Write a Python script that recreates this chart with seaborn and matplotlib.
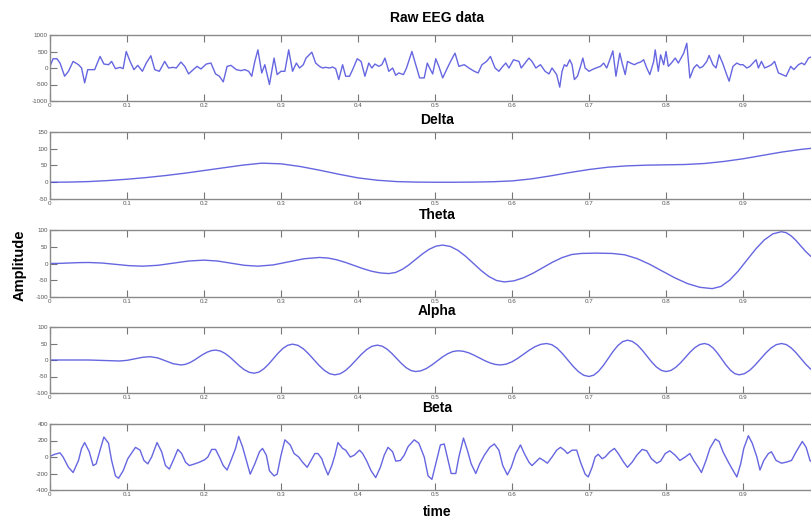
import numpy as np
import pandas as pd
import matplotlib
matplotlib.use("Agg")
import matplotlib.pyplot as plt
import seaborn as sns

# ---------------- data ----------------
raw_time = [
    0.000, 0.004, 0.009, 0.013, 0.019, 0.024, 0.030, 0.037, 0.041, 0.045,
    0.049, 0.058, 0.065, 0.070, 0.076, 0.080, 0.085, 0.091, 0.095, 0.099,
    0.104, 0.109, 0.114, 0.120, 0.125, 0.131, 0.136, 0.142, 0.149, 0.154,
    0.160, 0.164, 0.170, 0.175, 0.180, 0.186, 0.191, 0.196, 0.203, 0.209,
    0.215, 0.220, 0.225, 0.230, 0.235, 0.242, 0.248, 0.253, 0.258, 0.262,
    0.266, 0.270, 0.275, 0.279, 0.285, 0.291, 0.295, 0.300, 0.305, 0.310,
    0.315, 0.320, 0.324, 0.329,
    0.3325, 0.340, 0.345, 0.350, 0.354, 0.358, 0.363, 0.367, 0.371, 0.375,
    0.380, 0.384, 0.389, 0.393, 0.399, 0.404, 0.409, 0.414, 0.418, 0.422,
    0.427, 0.431, 0.435, 0.440, 0.445, 0.449, 0.453, 0.459, 0.463, 0.470,
    0.475, 0.480, 0.486, 0.490, 0.493, 0.497, 0.501, 0.505, 0.510, 0.516,
    0.522, 0.526, 0.531, 0.538, 0.544, 0.551, 0.556, 0.561, 0.567, 0.572,
    0.578, 0.583, 0.588, 0.592, 0.596, 0.602, 0.609, 0.612, 0.617, 0.622,
    0.626, 0.631, 0.637, 0.643, 0.648, 0.652,
    0.658, 0.662, 0.665, 0.668, 0.671, 0.675, 0.678, 0.681, 0.685, 0.689,
    0.692, 0.695, 0.700, 0.704, 0.709, 0.715, 0.719, 0.723, 0.727, 0.731,
    0.735, 0.740, 0.743, 0.747, 0.750, 0.754, 0.759, 0.763, 0.767, 0.771,
    0.775, 0.779, 0.784, 0.786, 0.790, 0.793, 0.797, 0.800, 0.803, 0.807,
    0.812, 0.816, 0.823, 0.827, 0.831, 0.836, 0.840, 0.844, 0.848, 0.853,
    0.856, 0.861, 0.865, 0.869, 0.874, 0.878, 0.882, 0.887, 0.892, 0.896,
    0.900, 0.905, 0.909, 0.913, 0.917, 0.920, 0.924, 0.928, 0.933, 0.937,
    0.941, 0.946, 0.951, 0.956, 0.962, 0.966, 0.972, 0.976, 0.980, 0.985,
    0.990, 1.000,
]
raw_amp = [
    50, 280, 280, 150, -250, -100, 200, 100, 0, -450,
    -50, -50, 350, 120, 100, 200, -20, 20, -20, 500,
    200, -50, 80, -100, 150, 370, -50, -100, 200, 0,
    20, 0, 180, 50, -180, -50, 50, -30, 120, 150,
    -180, -250, -420, 50, 80, -50, -80, -50, -100, -250,
    200, 550, -150, 100, -500, 300, -200, -100, -100, 550,
    -100, 150, 0, 100,
    300, 480, 150, 50, 0, 20, 0, 30, -20, -350,
    100, -250, -250, -50, 280, 200, -250, 150, 0, 120,
    50, 100, 300, -100, 0, -220, -150, -200, 0, 500,
    100, -300, -300, 150, 0, -180, 280, 50, -300, 0,
    280, 450, 50, 100, 0, -100, -150, 100, 200, 350,
    0, -100, 50, 150, 0, 250, 200, 0, 150, 300,
    200, 0, 100, -100, -180, 0,
    -200, -580, -100, 100, 50, 250, 100, -350, -250, 50,
    300, 0, -100, -50, 0, 50, 150, 0, 250, 520,
    -250, 450, 150, -200, 200, 150, 100, 150, 180, 250,
    0, -200, 200, 550, -100, 400, 100, 500, 50, 150,
    300, 150, 450, 750, -300, 0, 100, 0, 50, 200,
    380, 100, 0, 400, 120, -150, -400, 50, 150, 100,
    100, 0, 50, 150, 250, 0, 200, 0, 50, 100,
    200, -150, -200, -250, 50, -50, 100, 150, 100, 300,
    350, 200,
]

delta_time = [
    0.000, 0.025, 0.050, 0.075, 0.100, 0.125, 0.150, 0.175, 0.200, 0.225,
    0.250, 0.275, 0.300, 0.325, 0.350, 0.375, 0.400, 0.425, 0.450, 0.475,
    0.500, 0.525, 0.550, 0.575, 0.600, 0.625, 0.650, 0.675, 0.700, 0.725,
    0.750, 0.775, 0.800, 0.825, 0.850, 0.875, 0.900, 0.925, 0.950, 0.975,
    1.000,
]
delta_amp = [
    0, 0.5, 2, 5, 9, 14, 20, 27, 35, 43,
    51, 57, 55, 47, 36, 24, 13, 6, 2, 0.5,
    0, 0, 0.5, 1.5, 4, 10, 19, 29, 38, 45,
    49, 51, 52, 53, 56, 62, 70, 80, 90, 98,
    104,
]

theta_time = [
    0.000, 0.0125, 0.025, 0.0375, 0.050, 0.0675, 0.085, 0.1025, 0.120, 0.140,
    0.160, 0.180, 0.200, 0.2175, 0.235, 0.2525, 0.270, 0.290, 0.310, 0.330,
    0.350, 0.3613, 0.3725, 0.3838, 0.395, 0.4063, 0.4175, 0.4288,
    0.440, 0.4488, 0.4575, 0.4663, 0.475, 0.4838, 0.4925, 0.5013,
    0.510, 0.520, 0.530, 0.540, 0.550, 0.560, 0.570, 0.580,
    0.590, 0.6025, 0.615, 0.6275, 0.640, 0.6525, 0.665, 0.6775,
    0.690, 0.710,
    0.730, 0.7463, 0.7625, 0.7788, 0.795, 0.8113, 0.8275, 0.8438,
    0.860, 0.8713, 0.8825, 0.8938, 0.905, 0.9163, 0.9275, 0.9388,
    0.950, 0.9563, 0.9625, 0.9688, 0.975, 0.9813, 0.9875, 0.9938,
    1.000,
]
theta_amp = [
    0, 0.4, 1.5, 2.6, 3, 1.4, -2.5, -6.4, -8, -5.4,
    1, 7.4, 10, 7.4, 1, -5.4, -8, -4.2, 5, 14.2,
    18, 16.2, 11, 3.2, -6, -15.2, -23, -28.2,
    -30, -26.8, -17.5, -3.8, 12.5, 28.8, 42.5, 51.8,
    55, 50.8, 38.9, 21.1, 0, -21.1, -38.9, -50.8,
    -55, -51.8, -42.5, -28.8, -12.5, 3.8, 17.5, 26.8,
    30, 31,
    30, 26, 14.6, -2.4, -22.5, -42.6, -59.6, -71,
    -75, -68.5, -50.1, -22.6, 10, 42.6, 70.1, 88.5,
    95, 91.8, 82.5, 68.8, 52.5, 36.2, 22.5, 13.2,
    10,
]

alpha_time = [
    0.000, 0.050, 0.090, 0.100, 0.110, 0.120, 0.130, 0.140, 0.150, 0.160,
    0.170, 0.1756, 0.1813, 0.1869, 0.1925, 0.1981, 0.2038, 0.2094,
    0.215, 0.2213, 0.2275, 0.2338, 0.240, 0.2463, 0.2525, 0.2588,
    0.265, 0.2713, 0.2775, 0.2838, 0.290, 0.2963, 0.3025, 0.3088,
    0.315, 0.3219, 0.3288, 0.3356, 0.3425, 0.3494, 0.3563, 0.3631,
    0.370, 0.3769, 0.3838, 0.3906, 0.3975, 0.4044, 0.4113, 0.4181,
    0.425, 0.4313, 0.4375, 0.4438, 0.450, 0.4563, 0.4625, 0.4688,
    0.475, 0.4819, 0.4888, 0.4956, 0.5025, 0.5094, 0.5163, 0.5231,
    0.530, 0.5369, 0.5438, 0.5506, 0.5575, 0.5644, 0.5713, 0.5781,
    0.585, 0.5925, 0.600, 0.6075, 0.615, 0.6225, 0.630, 0.6375,
    0.645, 0.6519, 0.6588, 0.6656, 0.6725, 0.6794, 0.6863, 0.6931,
    0.700, 0.7063, 0.7125, 0.7188, 0.725, 0.7313, 0.7375, 0.7438,
    0.750, 0.7563, 0.7625, 0.7688, 0.775, 0.7813, 0.7875, 0.7938,
    0.800, 0.8063, 0.8125, 0.8188, 0.825, 0.8313, 0.8375, 0.8438,
    0.850, 0.8556, 0.8613, 0.8669, 0.8725, 0.8781, 0.8838, 0.8894,
    0.895, 0.9019, 0.9088, 0.9156, 0.9225, 0.9294, 0.9363, 0.9431,
    0.950, 0.9563, 0.9625, 0.9688, 0.975, 0.9813, 0.9875, 0.9938,
    1.000,
]
alpha_amp = [
    0, 0, -3, -1.1, 3.5, 8.1, 10, 6.3, -2.5, -11.3,
    -15, -13.3, -8.4, -1.1, 7.5, 16.1, 23.4, 28.3,
    30, 27.3, 19.7, 8.4, -5, -18.4, -29.7, -37.3,
    -40, -36.7, -27.1, -12.9, 4, 20.9, 35.1, 44.7,
    48, 44.5, 34.4, 19.3, 1.5, -16.3, -31.4, -41.5,
    -45, -41.6, -31.8, -17.2, 0, 17.2, 31.8, 41.6,
    45, 42, 33.3, 20.3, 5, -10.3, -23.3, -32,
    -35, -32.6, -25.8, -15.6, -3.5, 8.6, 18.8, 25.6,
    28, 26.4, 21.7, 14.7, 6.5, -1.7, -8.7, -13.4,
    -15, -12.5, -5.5, 5.1, 17.5, 29.9, 40.5, 47.5,
    50, 46.2, 35.4, 19.2, 0, -19.2, -35.4, -46.2,
    -50, -45.8, -33.9, -16.1, 5, 26.1, 43.9, 55.8,
    60, 56.4, 46.1, 30.7, 12.5, -5.7, -21.1, -31.4,
    -35, -31.8, -22.5, -8.8, 7.5, 23.8, 37.5, 46.8,
    50, 46.4, 36.1, 20.7, 2.5, -15.7, -31.1, -41.4,
    -45, -41.4, -31.1, -15.7, 2.5, 20.7, 36.1, 46.4,
    50, 46.6, 36.8, 22.2, 5, -12.2, -26.8, -36.6,
    -40,
]

beta_time = [
    0.000, 0.006, 0.013, 0.017, 0.024, 0.030, 0.037, 0.041, 0.045, 0.051,
    0.056, 0.060, 0.065, 0.070, 0.076, 0.080, 0.085, 0.089, 0.095, 0.101,
    0.107, 0.111, 0.117, 0.122, 0.127, 0.132, 0.139, 0.145, 0.150, 0.155,
    0.161, 0.166, 0.171, 0.176, 0.181, 0.188, 0.194, 0.201, 0.205, 0.210,
    0.215, 0.220, 0.225, 0.230, 0.235, 0.241, 0.245, 0.250, 0.255, 0.260,
    0.266, 0.272, 0.276, 0.281, 0.285, 0.291, 0.295, 0.300, 0.305, 0.312,
    0.317, 0.323, 0.328, 0.334, 0.339, 0.344, 0.348, 0.353, 0.356, 0.361,
    0.366, 0.370, 0.374, 0.380, 0.384, 0.390, 0.395, 0.402, 0.406, 0.411,
    0.417, 0.423, 0.429, 0.434, 0.439, 0.445, 0.449, 0.455, 0.460, 0.465,
    0.473, 0.479, 0.486,
    0.491, 0.496, 0.502, 0.507, 0.512, 0.517, 0.521, 0.527, 0.531, 0.537,
    0.542, 0.547, 0.553, 0.558, 0.564, 0.571, 0.577, 0.583, 0.588, 0.594,
    0.599, 0.605, 0.611, 0.616, 0.622, 0.626, 0.632, 0.636, 0.641, 0.646,
    0.652, 0.658, 0.663, 0.668, 0.672, 0.678, 0.684, 0.689, 0.695, 0.699,
    0.704, 0.708, 0.712, 0.717, 0.721, 0.727, 0.733, 0.738, 0.745, 0.750,
    0.756, 0.762, 0.769, 0.775, 0.781, 0.788, 0.793, 0.799, 0.805, 0.812,
    0.818, 0.825, 0.831, 0.836, 0.842, 0.846, 0.852, 0.857, 0.864, 0.869,
    0.874, 0.881, 0.886, 0.892, 0.897, 0.901, 0.907, 0.912, 0.918, 0.922,
    0.927, 0.933, 0.937, 0.943, 0.950, 0.956, 0.963, 0.969, 0.977, 0.982,
    0.987, 1.000,
]
beta_amp = [
    8, 33, 50, 0, -125, -188, -42, 104, 175, 63,
    -104, -83, 83, 242, 167, -42, -229, -258, -167, -21,
    63, 117, 83, -42, -83, 0, 175, 63, -104, -146,
    -21, 92, 42, -63, -104, -83, -63, -33, 0, 92,
    92, 0, -104, -158, -42, 104, 250, 125, -42, -208,
    -83, 63, 104, 21, -167, -229, -208, 21, 208, 146,
    42, 0, -63, -125, -42, 42, 42, -21, -104, -217,
    -104, 21, 175, 104, 83, 0, 21, 83, 42, -42,
    -167, -250, -125, 21, 117, 63, -50, -42, 21, 125,
    208, 167, 0,
    -229, -271, -42, 146, 158, -42, -200, -200, 0, 229,
    83, -83, -200, -83, 21, 117, 158, 83, -104, -217,
    -125, 42, 146, 42, -63, -104, -50, -13, -42, -75,
    0, 83, 117, 83, 42, 83, 83, -63, -208, -242,
    -125, 0, 33, -21, 0, 63, 104, 42, -63, -125,
    -63, 21, 92, 75, -21, -75, -50, 42, 75, 21,
    -42, 0, 42, -42, -125, -188, -42, 104, 217, 188,
    63, -63, -146, -242, -83, 104, 258, 167, 0, -158,
    -42, 42, 63, -42, -75, -63, -42, 63, 188, 117,
    -42, -150,
]

panel_titles = ["Raw EEG data", "Delta", "Theta", "Alpha", "Beta"]
panel_times = [raw_time, delta_time, theta_time, alpha_time, beta_time]
panel_values = [raw_amp, delta_amp, theta_amp, alpha_amp, beta_amp]
panel_yticks = [
    [-1000, -500, 0, 500, 1000],
    [-50, 0, 50, 100, 150],
    [-100, -50, 0, 50, 100],
    [-100, -50, 0, 50, 100],
    [-400, -200, 0, 200, 400],
]
x_ticks = [0, 0.1, 0.2, 0.3, 0.4, 0.5, 0.6, 0.7, 0.8, 0.9]
x_ticklabels = ["0", "0.1", "0.2", "0.3", "0.4", "0.5", "0.6", "0.7", "0.8", "0.9"]

# ---------------- figure ----------------
sns.set_theme(style="white")
plt.rcParams["font.family"] = ["Liberation Sans", "DejaVu Sans"]

W, H = 812, 519
fig = plt.figure(figsize=(W / 100, H / 100), dpi=100)
fig.patch.set_facecolor("white")

# axes boxes in pixels: (top, bottom); the right edge runs past the canvas
boxes = [(35, 101), (132, 199), (230, 297), (327, 393), (424, 490)]
left_px, right_px = 50, 820
title_y_px = [18, 120, 215, 311, 408]

line_color = "#4b4bdc"
spine_color = "#8a8a8a"

for i, (top, bot) in enumerate(boxes):
    ax = fig.add_axes([left_px / W, 1 - bot / H,
                       (right_px - left_px) / W, (bot - top) / H])
    df = pd.DataFrame({"time": panel_times[i], "amp": panel_values[i]})
    sns.lineplot(data=df, x="time", y="amp", ax=ax, color=line_color,
                 linewidth=1.0, alpha=0.85, sort=True, estimator=None)
    ax.set_xlim(0, 1)
    yt = panel_yticks[i]
    ax.set_ylim(yt[0], yt[-1])
    ax.set_xticks(x_ticks)
    ax.set_xticklabels(x_ticklabels)
    ax.set_yticks(yt)
    ax.set_yticklabels([str(v) for v in yt])
    ax.set_xlabel("")
    ax.set_ylabel("")
    ax.tick_params(axis="both", direction="in", length=5, width=0.8,
                   color="#777777", labelsize=4.5, labelcolor="#555555",
                   pad=1.5, top=True, bottom=True, left=True, right=False)
    for s in ax.spines.values():
        s.set_visible(True)
        s.set_color(spine_color)
        s.set_linewidth(1.0)
    ax.set_facecolor("white")
    fig.text(437 / W, 1 - title_y_px[i] / H, panel_titles[i],
             ha="center", va="center", fontsize=10, fontweight="bold",
             color="black")

fig.text(20 / W, 1 - 265 / H, "Amplitude", rotation=90, ha="center",
         va="center", fontsize=10.5, fontweight="bold", color="black")
fig.text(437 / W, 1 - 512 / H, "time", ha="center", va="center",
         fontsize=10, fontweight="bold", color="black")

fig.savefig("out.png", dpi=100, facecolor="white")
